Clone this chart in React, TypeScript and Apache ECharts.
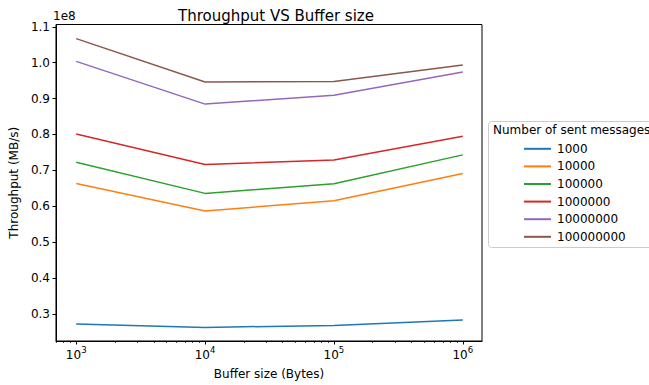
import React, { useEffect, useRef } from "react";
import * as echarts from "echarts";

const bufferSizes = [1000, 10000, 100000, 1000000];
const seriesNames = ["1000", "10000", "100000", "1000000", "10000000", "100000000"];
const s1000 = [27140000, 26220000, 26780000, 28250000];
const s10000 = [66340000, 58680000, 61540000, 69100000];
const s100000 = [72270000, 63570000, 66260000, 74300000];
const s1000000 = [80120000, 71600000, 72900000, 79500000];
const s10000000 = [100370000, 88450000, 90940000, 97400000];
const s100000000 = [106700000, 94630000, 94740000, 99350000];
const yTicks = [0.3e8, 0.4e8, 0.5e8, 0.6e8, 0.7e8, 0.8e8, 0.9e8, 1.0e8, 1.1e8];
const xMajorExp = [3, 4, 5, 6];
const colors = ["#1f77b4", "#ff7f0e", "#2ca02c", "#d62728", "#9467bd", "#8c564b"];

export default function App() {
  const ref = useRef<HTMLDivElement>(null);
  useEffect(() => {
    if (!ref.current) return;
    const chart = echarts.init(ref.current, null, { renderer: "svg" });
    const all = [s1000, s10000, s100000, s1000000, s10000000, s100000000];
    const minor: number[] = [];
    for (let e = 2; e <= 6; e++) {
      for (let k = 2; k <= 9; k++) {
        const v = Math.log10(k * Math.pow(10, e));
        if (v > 2.843 && v < 6.149) minor.push(v);
      }
    }
    const font = "DejaVu Sans";
    const fs = 12;
    chart.setOption({
      animation: false,
      textStyle: { fontFamily: font },
      title: {
        text: "Throughput VS Buffer size",
        left: 271,
        top: 3,
        textAlign: "center",
        textStyle: { fontFamily: font, fontSize: 15, fontWeight: "normal", color: "#000" },
      },
      grid: { left: 53, right: 167, top: 24.5, bottom: 42, show: true, borderColor: "#000", borderWidth: 1, backgroundColor: "transparent" },
      legend: {
        orient: "vertical",
        left: 519,
        top: 137,
        icon: "rect",
        itemWidth: 27,
        itemHeight: 2,
        itemGap: 4,
        data: seriesNames,
        textStyle: { fontFamily: font, fontSize: fs, color: "#000", padding: [0, 0, 0, 1], lineHeight: 13.6 },
      },
      xAxis: [
        {
          type: "value",
          min: 2.843,
          max: 6.149,
          splitLine: { show: false },
          axisLine: { show: true, onZero: false, lineStyle: { color: "#000" } },
          axisTick: { show: true, length: 3.5, customValues: xMajorExp, lineStyle: { color: "#000" } },
          axisLabel: {
            customValues: xMajorExp,
            formatter: (v: number) => "{b|10}{s|" + Math.round(v) + "}",
            color: "#000",
            margin: 4,
            fontFamily: font,
            rich: {
              b: { fontSize: fs, fontFamily: font, color: "#000", lineHeight: 16, verticalAlign: "bottom" },
              s: { fontSize: 8.5, fontFamily: font, color: "#000", lineHeight: 16, verticalAlign: "top", padding: [0, 0, 6, 0] },
            },
          },
          name: "Buffer size (Bytes)",
          nameLocation: "middle",
          nameGap: 27,
          nameTextStyle: { fontSize: fs, color: "#000", fontFamily: font },
        },
        {
          type: "value",
          position: "bottom",
          min: 2.843,
          max: 6.149,
          splitLine: { show: false },
          axisLine: { show: false },
          axisTick: { show: true, length: 2, customValues: minor, lineStyle: { color: "#000", width: 0.7 } },
          axisLabel: { show: false },
        },
      ],
      yAxis: {
        type: "value",
        min: 22430000,
        max: 110640000,
        splitLine: { show: false },
        axisLine: { show: true, onZero: false, lineStyle: { color: "#000" } },
        axisTick: { show: true, length: 3.5, customValues: yTicks, lineStyle: { color: "#000" } },
        axisLabel: {
          customValues: yTicks,
          formatter: (v: number) => (v / 1e8).toFixed(1),
          fontSize: fs,
          color: "#000",
          margin: 6,
          fontFamily: font,
        },
        name: "Throughput (MB/s)",
        nameLocation: "middle",
        nameGap: 30,
        nameTextStyle: { fontSize: fs, color: "#000", fontFamily: font },
      },
      graphic: [
        {
          type: "text",
          left: 53,
          top: 10,
          style: { text: "1e8", fontSize: fs, fill: "#000", fontFamily: font },
        },
        {
          type: "rect",
          left: 488,
          top: 121,
          shape: { width: 170, height: 126, r: 3 },
          style: { fill: "rgba(255,255,255,0.8)", stroke: "#cccccc", lineWidth: 1 },
          z: -1,
        },
        {
          type: "text",
          left: 493,
          top: 124,
          style: { text: "Number of sent messages", fontSize: fs, fill: "#000", fontFamily: font },
        },
      ],
      series: all.map((vals, i) => ({
        name: seriesNames[i],
        type: "line",
        showSymbol: false,
        symbol: "none",
        color: colors[i],
        lineStyle: { width: 1.5, color: colors[i] },
        data: vals.map((v, j) => [Math.log10(bufferSizes[j]), v]),
      })),
    });
    return () => chart.dispose();
  }, []);
  return <div ref={ref} style={{ width: 649, height: 385, position: "absolute", left: 0, top: 0, background: "#fff" }} />;
}
